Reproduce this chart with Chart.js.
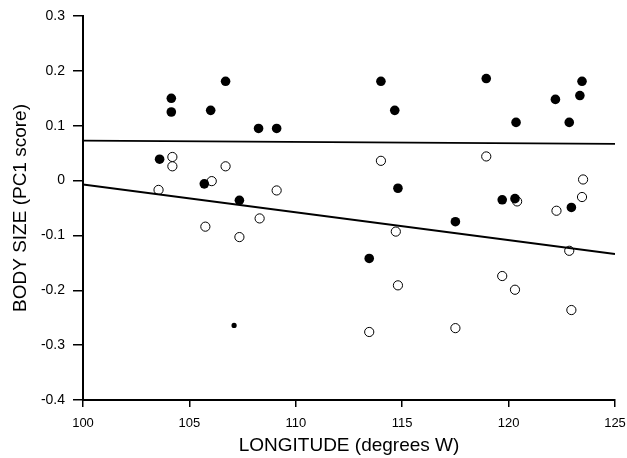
<!DOCTYPE html>
<html>
<head>
<meta charset="utf-8">
<script src="https://cdn.jsdelivr.net/npm/chart.js@4.4.0/dist/chart.umd.min.js"></script>
<style>
  html, body { margin: 0; padding: 0; background: #fff; }
  #wrap { width: 627px; height: 458px; }
</style>
</head>
<body>
<div id="wrap"><canvas id="body_chart" width="627" height="458"></canvas></div>
<script>
// filled circles
const filledLon = [103.6, 104.15, 104.15, 106.0, 106.7, 105.7, 107.35, 108.25, 109.1, 113.45, 114.0, 114.65,
  114.8, 117.5, 118.95, 119.7, 120.3, 120.35, 122.2, 122.85, 122.95, 123.35, 123.45];
const filledSize = [0.039, 0.150, 0.125, 0.128, 0.181, -0.006, -0.036, 0.095, 0.095, -0.142, 0.181, 0.128,
  -0.014, -0.075, 0.186, -0.035, -0.033, 0.106, 0.148, 0.106, -0.049, 0.155, 0.181];

// small dot
const smallLon = [107.1];
const smallSize = [-0.264];

// open circles
const openLon = [103.55, 104.2, 104.2, 105.75, 106.05, 106.7, 107.35, 108.3, 109.1, 113.45, 114.0, 114.7,
  114.8, 117.5, 118.95, 119.7, 120.3, 120.4, 122.25, 122.85, 122.95, 123.45, 123.5];
const openSize = [-0.017, 0.043, 0.026, -0.084, -0.001, 0.026, -0.103, -0.069, -0.018, -0.276, 0.036, -0.093,
  -0.191, -0.269, 0.044, -0.174, -0.199, -0.038, -0.055, -0.128, -0.236, -0.030, 0.002];

// regression lines (end points)
const upperLineLon = [100, 125];
const upperLineSize = [0.073, 0.067];
const lowerLineLon = [100, 125];
const lowerLineSize = [-0.007, -0.134];

const xTicks = [100, 105, 110, 115, 120, 125];
const yTicks = [-0.4, -0.3, -0.2, -0.1, 0, 0.1, 0.2, 0.3];

const toPoints = (xs, ys) => xs.map((x, i) => ({ x: x, y: ys[i] }));

const font = "'Liberation Sans', Arial, Helvetica, sans-serif";
const cxt = document.getElementById("body_chart").getContext("2d");

new Chart(cxt, {
  type: "scatter",
  data: {
    datasets: [
      {
        label: "filled",
        data: toPoints(filledLon, filledSize),
        pointRadius: 4.8,
        pointBackgroundColor: "#000",
        pointBorderColor: "#000",
        pointBorderWidth: 0,
      },
      {
        label: "small",
        data: toPoints(smallLon, smallSize),
        pointRadius: 2.6,
        pointBackgroundColor: "#000",
        pointBorderColor: "#000",
        pointBorderWidth: 0,
      },
      {
        label: "upper",
        type: "line",
        data: toPoints(upperLineLon, upperLineSize),
        borderColor: "#000",
        borderWidth: 1.8,
        pointRadius: 0,
        fill: false,
      },
      {
        label: "lower",
        type: "line",
        data: toPoints(lowerLineLon, lowerLineSize),
        borderColor: "#000",
        borderWidth: 2,
        pointRadius: 0,
        fill: false,
      },
      {
        label: "open",
        data: toPoints(openLon, openSize),
        pointRadius: 4.6,
        pointBackgroundColor: "#fff",
        pointBorderColor: "#000",
        pointBorderWidth: 1,
      },
    ],
  },
  options: {
    responsive: false,
    animation: false,
    events: [],
    layout: { autoPadding: false, padding: { top: 16, right: 12, left: 0, bottom: 0 } },
    plugins: { legend: { display: false }, tooltip: { enabled: false } },
    scales: {
      x: {
        type: "linear",
        min: 100,
        max: 125,
        afterFit: (s) => {
          s.height = 58;
          s.paddingLeft = 0;
          s.paddingRight = 0;
        },
        afterBuildTicks: (s) => { s.ticks = xTicks.map((v) => ({ value: v })); },
        border: { display: true, color: "#000", width: 2 },
        grid: { drawOnChartArea: false, drawTicks: true, tickLength: 7, color: "#000", lineWidth: 1.5 },
        ticks: { color: "#000", padding: 9, font: { family: font, size: 13 }, maxRotation: 0 },
        title: {
          display: true,
          text: "LONGITUDE (degrees W)",
          color: "#000",
          font: { family: font, size: 19 },
          padding: { top: 0, bottom: 1 },
        },
      },
      y: {
        type: "linear",
        min: -0.4,
        max: 0.3,
        afterFit: (s) => {
          s.width = 83;
          s.paddingTop = 0;
          s.paddingBottom = 0;
        },
        afterBuildTicks: (s) => { s.ticks = yTicks.map((v) => ({ value: v })); },
        border: { display: true, color: "#000", width: 2 },
        grid: { drawOnChartArea: false, drawTicks: true, tickLength: 10, color: "#000", lineWidth: 1.5 },
        ticks: {
          color: "#000",
          padding: 8,
          font: { family: font, size: 14 },
          callback: (v) => (Math.abs(v) < 1e-9 ? "0" : v.toFixed(1)),
        },
        title: {
          display: true,
          text: "BODY SIZE (PC1 score)",
          color: "#000",
          font: { family: font, size: 19 },
          padding: { top: 9, bottom: 0 },
        },
      },
    },
  },
});
</script>
</body>
</html>
